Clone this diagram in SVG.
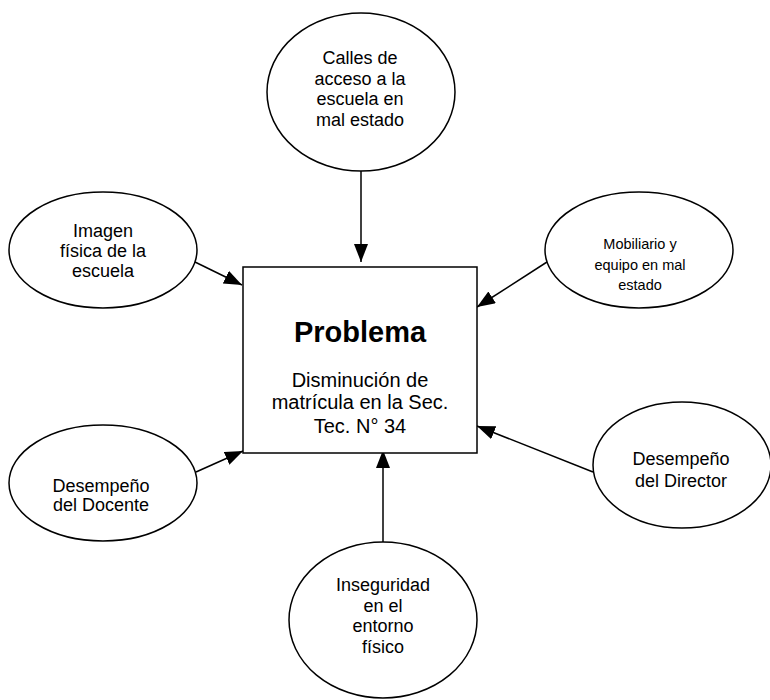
<svg xmlns="http://www.w3.org/2000/svg" width="770" height="700" viewBox="0 0 770 700">
<defs>
<marker id="ah" markerUnits="userSpaceOnUse" markerWidth="20" markerHeight="16" refX="18" refY="7" orient="auto">
<path d="M0,0 L18,7 L0,14 z" fill="#000"/>
</marker>
<style>
.n{fill:#fff;stroke:#000;stroke-width:1.5}
.t{font-family:"Liberation Sans",Arial,sans-serif;font-size:18px;fill:#000;text-anchor:middle}
.s{font-size:14.5px}
.c{stroke:#000;stroke-width:1.5;fill:none;marker-end:url(#ah)}
</style>
</defs>
<rect width="770" height="700" fill="#fff"/>
<g id="connectors">
<line class="c" x1="361" y1="170" x2="361" y2="262"/>
<line class="c" x1="195" y1="262" x2="242" y2="285"/>
<line class="c" x1="547" y1="262" x2="477" y2="307"/>
<line class="c" x1="196" y1="472" x2="243" y2="451"/>
<line class="c" x1="593" y1="472" x2="477" y2="426"/>
<line class="c" x1="383" y1="542" x2="383" y2="450"/>
</g>
<g id="problema">
<rect class="n" x="243" y="267" width="234" height="186"/>
<text class="t" x="360" y="342" style="font-size:29px;font-weight:bold">Problema</text>
<text class="t" x="360" y="387" style="font-size:20px">Disminución de</text>
<text class="t" x="360" y="409" style="font-size:20px">matrícula en la Sec.</text>
<text class="t" x="360" y="433" style="font-size:20px">Tec. N° 34</text>
</g>
<g id="calles">
<ellipse class="n" cx="361" cy="92" rx="94" ry="79"/>
<text class="t" x="360" y="64">Calles de</text>
<text class="t" x="360" y="85">acceso a la</text>
<text class="t" x="360" y="105">escuela en</text>
<text class="t" x="360" y="126">mal estado</text>
</g>
<g id="imagen">
<ellipse class="n" cx="103" cy="250" rx="94" ry="58"/>
<text class="t" x="103" y="237">Imagen</text>
<text class="t" x="103" y="257">física de la</text>
<text class="t" x="103" y="277">escuela</text>
</g>
<g id="mobiliario">
<ellipse class="n" cx="639" cy="250" rx="94" ry="58"/>
<text class="t s" x="640" y="249">Mobiliario y</text>
<text class="t s" x="640" y="270">equipo en mal</text>
<text class="t s" x="640" y="290">estado</text>
</g>
<g id="docente">
<ellipse class="n" cx="103" cy="483" rx="94" ry="58"/>
<text class="t" x="101" y="492">Desempeño</text>
<text class="t" x="101" y="511">del Docente</text>
</g>
<g id="director">
<ellipse class="n" cx="682" cy="465" rx="89" ry="63"/>
<text class="t" x="681" y="465">Desempeño</text>
<text class="t" x="681" y="487">del Director</text>
</g>
<g id="inseguridad">
<ellipse class="n" cx="383" cy="620" rx="94" ry="78"/>
<text class="t" x="383" y="591">Inseguridad</text>
<text class="t" x="383" y="612">en el</text>
<text class="t" x="383" y="632">entorno</text>
<text class="t" x="383" y="653">físico</text>
</g>
</svg>
